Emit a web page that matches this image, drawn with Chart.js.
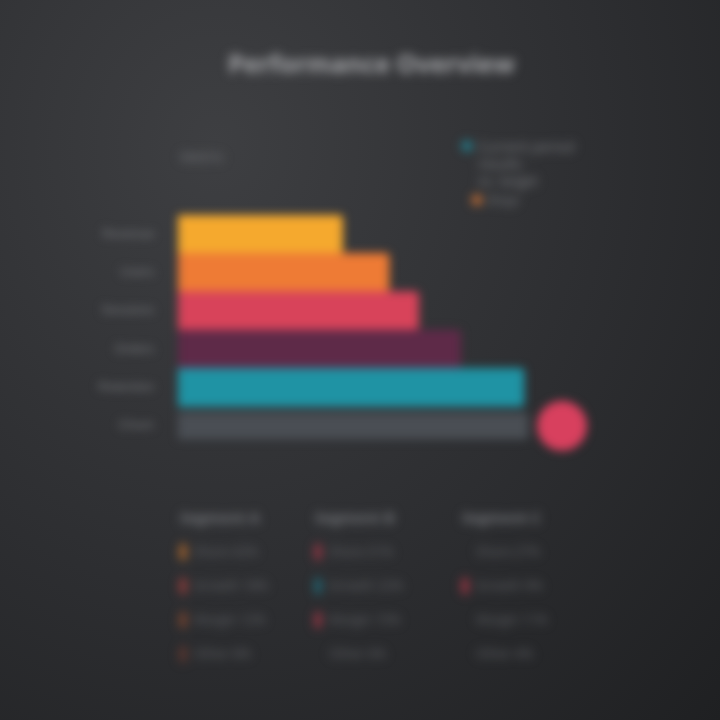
<!DOCTYPE html>
<html>
<head>
<meta charset="utf-8">
<script src="https://cdn.jsdelivr.net/npm/chart.js@4.4.1/dist/chart.umd.min.js"></script>
<style>
  html, body { margin: 0; padding: 0; }
  body {
    width: 720px; height: 720px; overflow: hidden;
    background: radial-gradient(ellipse at 30% 20%, #3e3f42 0%, #2d2e31 55%, #1f2022 100%);
    font-family: "Open Sans", "DejaVu Sans", sans-serif;
  }
  #scene { position: absolute; left: 0; top: 0; width: 720px; height: 720px; filter: blur(5px); }
  .soft { filter: blur(2px); }
  #title { position: absolute; left: 228px; top: 46px; width: 272px; text-align: center;
    color: #a9aaad; font-size: 25px; font-weight: 700; white-space: nowrap; }
  #axisTitle { position: absolute; left: 180px; top: 146px; color: #75777b; font-size: 15px; }
  .leg { position: absolute; color: #7f8185; font-size: 14px; line-height: 17px; }
  .leg i { position: absolute; left: -16px; top: 3px; width: 10px; height: 10px; border-radius: 5px; }
  #wrap { position: absolute; left: 70px; top: 190px; width: 560px; height: 280px; }
  .col { position: absolute; top: 500px; width: 110px; color: #66686c; font-size: 13px; line-height: 34px; }
  .col b { display: block; color: #77797d; font-size: 15px; }
  .col span { display: block; padding-left: 14px; position: relative; }
  .col span i { position: absolute; left: 0; top: 10px; width: 6px; height: 16px; border-radius: 2px; }
</style>
</head>
<body>
<div id="scene">
  <div id="title" class="soft">Performance Overview</div>
  <div id="axisTitle" class="soft">Metric</div>
  <div class="leg soft" style="left:478px; top:138px; width:140px;"><i style="background:#1f8fa1"></i>Current period results<br>vs. target</div>
  <div class="leg soft" style="left:488px; top:192px;"><i style="background:#e07a36"></i>Prior</div>
  <div id="wrap"><canvas id="chart"></canvas></div>
  <div class="col soft" style="left:180px;"><b>Segment A</b>
    <span><i style="background:#c0702e"></i>Share 42%</span>
    <span><i style="background:#a8423e"></i>Growth 18%</span>
    <span><i style="background:#8a4a30"></i>Margin 12%</span>
    <span><i style="background:#6a3a30"></i>Other 8%</span></div>
  <div class="col soft" style="left:315px;"><b>Segment B</b>
    <span><i style="background:#a83848"></i>Share 31%</span>
    <span><i style="background:#1f7080"></i>Growth 22%</span>
    <span><i style="background:#a83848"></i>Margin 15%</span>
    <span>Other 6%</span></div>
  <div class="col soft" style="left:462px;"><b>Segment C</b>
    <span>Share 27%</span>
    <span><i style="background:#b03848"></i>Growth 9%</span>
    <span>Margin 11%</span>
    <span>Other 4%</span></div>
</div>
<script>
// chart data
const categories = ['Revenue', 'Users', 'Sessions', 'Orders', 'Retention', 'Churn'];
const values = [39, 50, 57, 67, 82, null];
const churnValues = [null, null, null, null, null, 83];
const barColors = ['#f5a92e', '#ee7b35', '#d8435a', '#5e2a48', '#1f93a4', '#4a4e54'];
const outlierPoint = [{ x: 91, y: 'Churn' }];

new Chart(document.getElementById('chart'), {
  type: 'bar',
  data: {
    labels: categories,
    datasets: [
      {
        label: 'Current',
        data: values,
        backgroundColor: barColors,
        borderRadius: 4,
        borderSkipped: 'start',
        grouped: false,
        categoryPercentage: 1,
        barPercentage: 1
      },
      {
        label: 'Churn',
        data: churnValues,
        backgroundColor: barColors,
        borderRadius: 3,
        borderSkipped: 'start',
        grouped: false,
        categoryPercentage: 1,
        barPercentage: 0.7
      },
      {
        type: 'scatter',
        label: 'Outlier',
        data: outlierPoint,
        backgroundColor: '#d8405e',
        borderWidth: 0,
        pointRadius: 25
      }
    ]
  },
  options: {
    indexAxis: 'y',
    responsive: true,
    maintainAspectRatio: false,
    animation: false,
    layout: { padding: { top: 18, right: 30, bottom: 10, left: 0 } },
    plugins: { legend: { display: false }, tooltip: { enabled: false } },
    scales: {
      x: { type: 'linear', min: 0, max: 100, display: false },
      y: {
        type: 'category',
        grid: { display: false },
        border: { display: false },
        ticks: { color: '#75777b', font: { size: 13 }, padding: 16 },
        afterFit: (scale) => { scale.width = 108; }
      }
    }
  }
});
</script>
</body>
</html>
